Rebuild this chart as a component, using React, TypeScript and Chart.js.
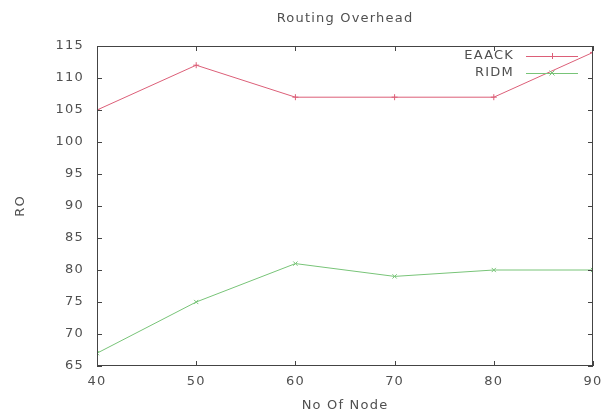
import React, { useEffect, useRef } from "react";
import { Chart, registerables } from "chart.js";

Chart.register(...registerables);

const nodes = [40, 50, 60, 70, 80, 90];
const eaack = [105, 112, 107, 107, 107, 114];
const ridm = [67, 75, 81, 79, 80, 80];
const seriesNames = ["EAACK", "RIDM"];
const titleText = "Routing Overhead";
const xTitle = "No Of Node";
const yTitle = "RO";

const RED = "#dc5f78";
const GREEN = "#78c478";
const TEXT = "#505050";
const FONT = "'DejaVu Sans', 'Liberation Sans', sans-serif";
const SPACING = "1.2px";

const spacingPlugin = {
  id: "spacing",
  afterInit(chart: any) {
    chart.ctx.letterSpacing = SPACING;
  },
  beforeUpdate(chart: any) {
    chart.ctx.letterSpacing = SPACING;
  },
  beforeDraw(chart: any) {
    chart.ctx.letterSpacing = SPACING;
  },
};

const frameTicks = {
  id: "frameTicks",
  afterDatasetsDraw(chart: any) {
    const { ctx, chartArea: a, scales } = chart;
    ctx.save();
    ctx.strokeStyle = "#444";
    ctx.lineWidth = 1;
    ctx.strokeRect(a.left + 0.5, a.top + 0.5, a.right - a.left - 1, a.bottom - a.top - 1);
    const L = 5;
    ctx.beginPath();
    scales.x.ticks.forEach((t: any) => {
      const x = Math.round(scales.x.getPixelForValue(t.value)) + 0.5;
      ctx.moveTo(x, a.bottom);
      ctx.lineTo(x, a.bottom - L);
      ctx.moveTo(x, a.top);
      ctx.lineTo(x, a.top + L);
    });
    scales.y.ticks.forEach((t: any) => {
      const y = Math.round(scales.y.getPixelForValue(t.value)) + 0.5;
      ctx.moveTo(a.left, y);
      ctx.lineTo(a.left + L, y);
      ctx.moveTo(a.right, y);
      ctx.lineTo(a.right - L, y);
    });
    ctx.stroke();

    // gnuplot style legend inside top-right
    const ds = chart.data.datasets;
    ctx.font = `13px ${FONT}`;
    ctx.letterSpacing = SPACING;
    ctx.textAlign = "right";
    ctx.textBaseline = "middle";
    ds.forEach((d: any, i: number) => {
      const y = a.top + 10 + i * 17;
      const textRight = a.right - 79;
      ctx.fillStyle = TEXT;
      ctx.fillText(d.label, textRight, y);
      const x0 = a.right - 67;
      const x1 = a.right - 15;
      ctx.strokeStyle = d.borderColor;
      ctx.lineWidth = 1;
      ctx.beginPath();
      ctx.moveTo(x0, y + 0.5);
      ctx.lineTo(x1, y + 0.5);
      ctx.stroke();
      const cx = Math.round((x0 + x1) / 2);
      ctx.beginPath();
      if (i === 0) {
        ctx.moveTo(cx - 3, y + 0.5);
        ctx.lineTo(cx + 3, y + 0.5);
        ctx.moveTo(cx + 0.5, y - 3);
        ctx.lineTo(cx + 0.5, y + 3);
      } else {
        ctx.moveTo(cx - 2.5, y - 2.5);
        ctx.lineTo(cx + 2.5, y + 2.5);
        ctx.moveTo(cx + 2.5, y - 2.5);
        ctx.lineTo(cx - 2.5, y + 2.5);
      }
      ctx.stroke();
    });
    ctx.restore();
  },
};

export default function App() {
  const ref = useRef<HTMLCanvasElement | null>(null);
  useEffect(() => {
    if (!ref.current) return;
    const chart = new Chart(ref.current, {
      type: "line",
      data: {
        datasets: [
          {
            label: seriesNames[0],
            data: nodes.map((x, i) => ({ x, y: eaack[i] })),
            borderColor: RED,
            backgroundColor: RED,
            borderWidth: 1,
            pointStyle: "cross",
            pointRadius: 3,
            pointBorderWidth: 1,
            tension: 0,
          },
          {
            label: seriesNames[1],
            data: nodes.map((x, i) => ({ x, y: ridm[i] })),
            borderColor: GREEN,
            backgroundColor: GREEN,
            borderWidth: 1,
            pointStyle: "crossRot",
            pointRadius: 3,
            pointBorderWidth: 1,
            tension: 0,
          },
        ],
      },
      options: {
        animation: false,
        responsive: false,
        maintainAspectRatio: false,
        layout: { padding: { left: 0, right: 12, top: 0, bottom: 0 } },
        plugins: {
          legend: { display: false },
          tooltip: { enabled: false },
          title: {
            display: true,
            fullSize: false,
            text: titleText,
            color: TEXT,
            font: { family: FONT, size: 13, weight: "normal" },
            padding: { top: 11, bottom: 19.4 },
          },
        },
        scales: {
          x: {
            type: "linear",
            min: 40,
            max: 90,
            ticks: {
              stepSize: 10,
              color: TEXT,
              font: { family: FONT, size: 13 },
              padding: 0,
              maxRotation: 0,
            },
            grid: { display: false },
            border: { display: false },
            title: {
              display: true,
              text: xTitle,
              color: TEXT,
              font: { family: FONT, size: 13 },
              padding: { top: 4, bottom: 1 },
            },
            afterFit: (s: any) => {
              s.height = 48;
            },
          },
          y: {
            type: "linear",
            min: 65,
            max: 115,
            ticks: {
              stepSize: 5,
              color: TEXT,
              font: { family: FONT, size: 13 },
              padding: 5,
            },
            grid: { display: false },
            border: { display: false },
            title: {
              display: true,
              text: yTitle,
              color: TEXT,
              font: { family: FONT, size: 13 },
              padding: { top: 13, bottom: 0 },
            },
            afterFit: (s: any) => {
              s.width = 97;
            },
          },
        },
      },
      plugins: [spacingPlugin, frameTicks],
    });
    return () => chart.destroy();
  }, []);
  return (
    <div style={{ position: "absolute", left: 0, top: 0, width: 605, height: 414, background: "#fff" }}>
      <canvas ref={ref} width={605} height={414} style={{ width: 605, height: 414 }} />
    </div>
  );
}
